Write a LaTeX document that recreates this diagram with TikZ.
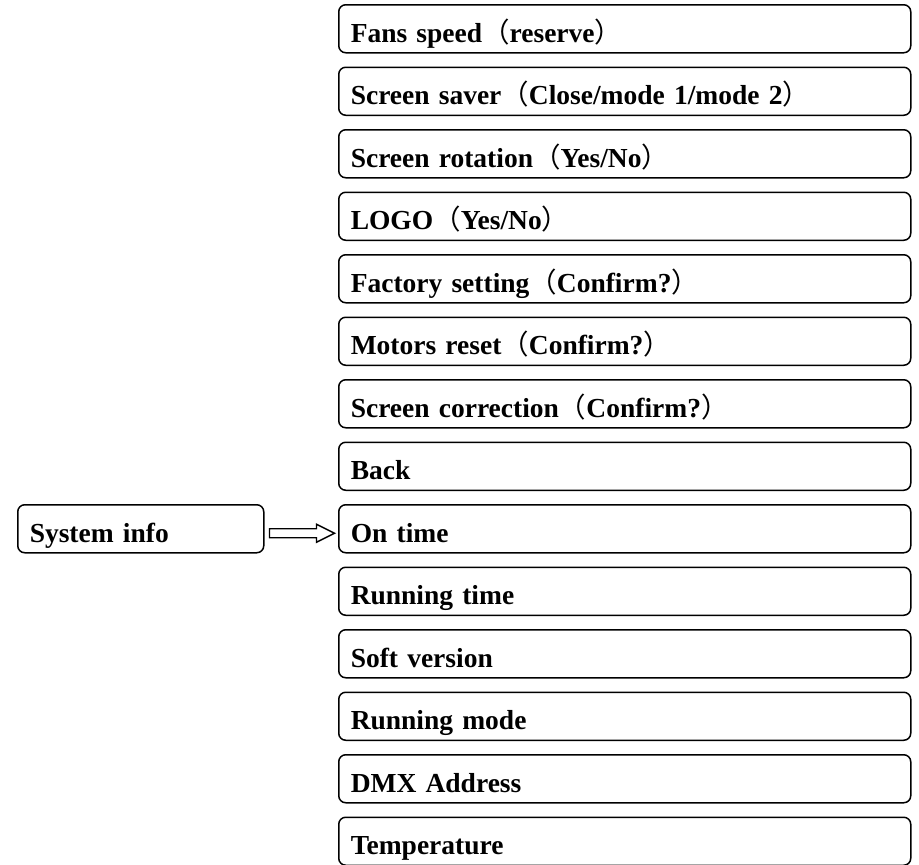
\documentclass[tikz,border=0pt]{standalone}
\usepackage{fontspec}
\setmainfont{Liberation Serif}
\newfontfamily\cjk{Noto Sans CJK SC}
\newcommand{\lpar}{{\cjk\mdseries （}}
\newcommand{\rpar}{{\cjk\mdseries ）}}
\usetikzlibrary{calc}
\begin{document}
\begin{tikzpicture}[x=1pt,y=-1pt,
  menubox/.style={draw, line width=1.5pt, rounded corners=7pt, minimum height=48pt,
    inner xsep=12pt, inner ysep=0pt, align=left, anchor=north west,
    text height=27pt, text depth=0pt,
    font=\fontsize{27.5}{30}\selectfont\bfseries},
  rbox/.style={menubox, text width=548pt},
  lbox/.style={menubox, text width=222pt},
  hollowarrow/.style={draw, line width=1.4pt, line join=miter}]
\useasboundingbox (0,0) rectangle (919,865);
\node[rbox] (b0)  at (338,4)    {Fans speed\lpar reserve\rpar};
\node[rbox] (b1)  at (338,66.5) {Screen saver\lpar Close/mode 1/mode 2\rpar};
\node[rbox] (b2)  at (338,129)  {Screen rotation\lpar Yes/No\rpar};
\node[rbox] (b3)  at (338,191.5){LOGO\lpar Yes/No\rpar};
\node[rbox] (b4)  at (338,254)  {Factory setting\lpar Confirm?\rpar};
\node[rbox] (b5)  at (338,316.5){Motors reset\lpar Confirm?\rpar};
\node[rbox] (b6)  at (338,379)  {Screen correction\lpar Confirm?\rpar};
\node[rbox] (b7)  at (338,441.5){Back};
\node[rbox] (b8)  at (338,504)  {On time};
\node[rbox] (b9)  at (338,566.5){Running time};
\node[rbox] (b10) at (338,629)  {Soft version};
\node[rbox] (b11) at (338,691.5){Running mode};
\node[rbox] (b12) at (338,754)  {DMX Address};
\node[rbox] (b13) at (338,816.5){Temperature};
\node[lbox] (sys) at (17,504)   {System info};
\draw[hollowarrow] ($(sys.east)+(5,0)$) -- ++(47,0) -- ++(0,-4.5) -- ++(18,9)
  -- ++(-18,9) -- ++(0,-4.5) -- ++(-47,0) -- cycle;
\end{tikzpicture}
\end{document}
